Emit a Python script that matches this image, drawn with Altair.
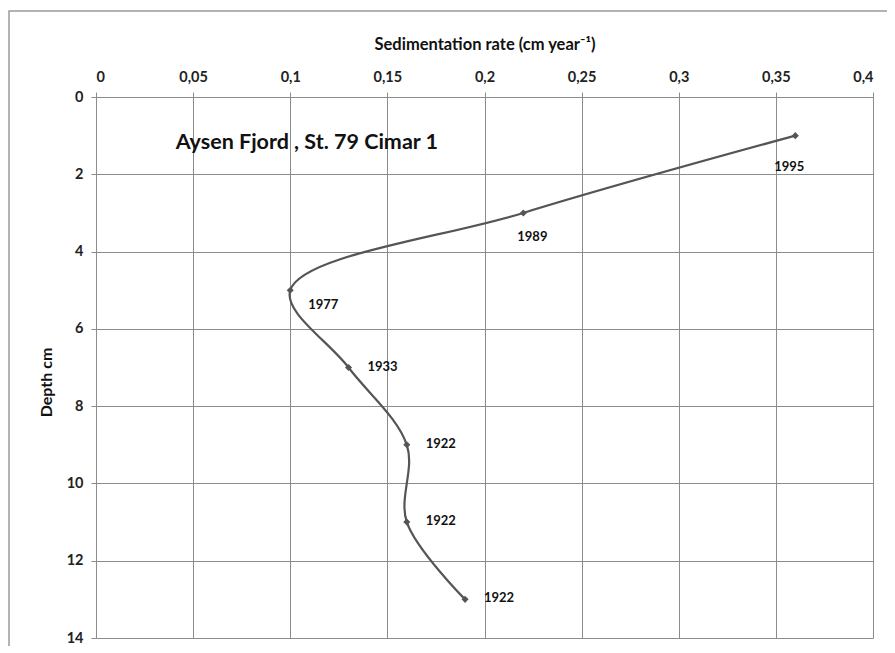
import altair as alt
import pandas as pd

rate = [0.36, 0.22, 0.10, 0.13, 0.16, 0.16, 0.19]
depth = [1, 3, 5, 7, 9, 11, 13]
year = ["1995", "1989", "1977", "1933", "1922", "1922", "1922"]
x_ticks = [0, 0.05, 0.1, 0.15, 0.2, 0.25, 0.3, 0.35, 0.4]
y_ticks = [0, 2, 4, 6, 8, 10, 12, 14]
title_text = "Aysen Fjord , St. 79 Cimar 1"

df = pd.DataFrame({"rate": rate, "depth": depth, "year": year})

FONT = "Lato"
GRID = "#8c8c8c"
INK = "#555555"

x_enc = alt.X(
    "rate:Q",
    scale=alt.Scale(domain=[0, 0.4], nice=False, zero=False),
    axis=alt.Axis(
        orient="top",
        values=x_ticks,
        labelExpr="replace(toString(datum.value), '.', ',')",
        title="Sedimentation rate (cm year⁻¹)",
        titleFontSize=16.5,
        titleFontWeight="bold",
        titlePadding=17,
        labelFontSize=14.5,
        labelFontWeight="bold",
        labelPadding=8,
        labelColor="#222",
        titleColor="#111",
        grid=True,
        gridColor=GRID,
        tickColor=GRID,
        tickSize=5,
        domainColor=GRID,
    ),
)
y_enc = alt.Y(
    "depth:Q",
    scale=alt.Scale(domain=[0, 14], reverse=True, nice=False, zero=False),
    axis=alt.Axis(
        values=y_ticks,
        title="Depth cm",
        titleFontSize=16,
        titleFontWeight="bold",
        titlePadding=12,
        titleY=285,
        labelFontSize=14.5,
        labelFontWeight="bold",
        labelPadding=8,
        labelColor="#222",
        titleColor="#111",
        grid=True,
        gridColor=GRID,
        tickColor=GRID,
        tickSize=5,
        domainColor=GRID,
    ),
)

base = alt.Chart(df)

line = base.mark_line(
    interpolate="catmull-rom", color=INK, strokeWidth=2.2
).encode(x=x_enc, y=y_enc, order=alt.Order("depth:Q"))

pts = base.mark_point(
    shape="diamond", filled=True, color=INK, size=50, opacity=1
).encode(x="rate:Q", y="depth:Q")

def lab(sel, dx, dy):
    return (
        alt.Chart(df.iloc[sel])
        .mark_text(
            font=FONT, fontSize=13, fontWeight="bold", color="#111",
            dx=dx, dy=dy,
        )
        .encode(x="rate:Q", y="depth:Q", text="year:N")
    )

labels = [
    lab([0], -6, 31),
    lab([1], 9, 24),
    lab([2], 33, 15),
    lab([3, 4, 5, 6], 34, -1),
]

title = alt.Chart(pd.DataFrame({"x": [0.041], "y": [1.2], "t": [title_text]})).mark_text(
    font=FONT, fontSize=21.5, fontWeight="bold", align="left", color="#111"
).encode(x="x:Q", y="y:Q", text="t:N")

frame = alt.Chart(pd.DataFrame({"a": [0]})).mark_rect(
    fill=None, stroke="#9a9a9a", strokeWidth=1.5, clip=False
).encode(
    x=alt.value(-87), x2=alt.value(797), y=alt.value(-86), y2=alt.value(560)
)

chart = (
    alt.layer(frame, line, pts, *labels, title)
    .properties(
        width=777,
        height=541,
        autosize=alt.AutoSizeParams(type="none"),
        padding={"left": 88, "top": 89, "right": 14, "bottom": 8},
        background="white",
    )
    .configure_view(stroke=None)
    .configure_axis(labelFont=FONT, titleFont=FONT)
)

chart.save("out.html", embed_options={"renderer": "svg", "actions": False})
